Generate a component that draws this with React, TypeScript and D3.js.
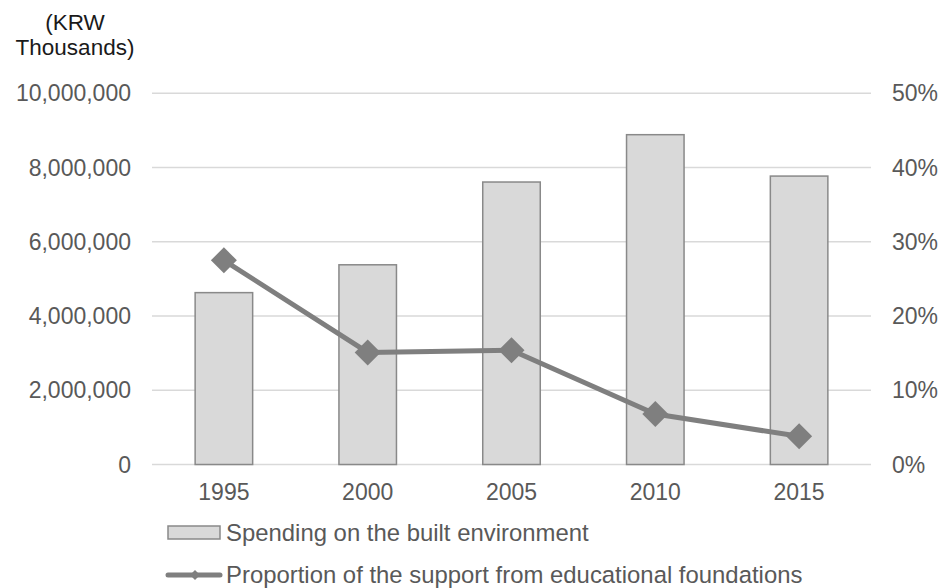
import React from "react";
import * as d3 from "d3";

const years = ["1995", "2000", "2005", "2010", "2015"];
const spending = [4630000, 5380000, 7610000, 8885000, 7770000];
const proportion = [0.275, 0.151, 0.154, 0.068, 0.038];
const leftTicks = [0, 2000000, 4000000, 6000000, 8000000, 10000000];
const rightTicks = [0, 0.1, 0.2, 0.3, 0.4, 0.5];
const titleLines = ["(KRW", "Thousands)"];
const legendBar = "Spending on the built environment";
const legendLine = "Proportion of the support from educational foundations";

const W = 944;
const H = 588;
const FONT = "'Liberation Sans', Arial, sans-serif";
const TXT = "#595959";
const GRID = "#d9d9d9";
const LINE = "#7f7f7f";

export default function App() {
  const x = d3.scaleBand<string>().domain(years).range([152, 871]).paddingInner(0.6).paddingOuter(0.3);
  const yL = d3.scaleLinear().domain([0, 10000000]).range([464.5, 93.3]);
  const yR = d3.scaleLinear().domain([0, 0.5]).range([464.5, 93.3]);
  const fmtL = d3.format(",");
  const fmtR = d3.format(".0%");
  const cx = (y: string) => (x(y) as number) + x.bandwidth() / 2;
  const linePath = d3
    .line<number>()
    .x((_, i) => cx(years[i]))
    .y((d) => yR(d))(proportion) as string;
  const diamond = (px: number, py: number, r: number) =>
    `M${px},${py - r}L${px + r},${py}L${px},${py + r}L${px - r},${py}Z`;

  return (
    <svg width={W} height={H} style={{ position: "absolute", left: 0, top: 0 }} fontFamily={FONT}>
      <rect x={0} y={0} width={W} height={H} fill="#fff" />
      {titleLines.map((t, i) => (
        <text key={t} x={75} y={30 + i * 24.5} textAnchor="middle" fontSize={22.5} fill="#1a1a1a">
          {t}
        </text>
      ))}
      {leftTicks.map((t) => (
        <line key={"g" + t} x1={152} x2={871} y1={yL(t)} y2={yL(t)} stroke={GRID} strokeWidth={1.5} />
      ))}
      {leftTicks.map((t) => (
        <text key={"l" + t} x={131} y={yL(t)} dy="0.35em" textAnchor="end" fontSize={23} fill={TXT}>
          {fmtL(t)}
        </text>
      ))}
      {rightTicks.map((t) => (
        <text key={"r" + t} x={892} y={yR(t)} dy="0.35em" textAnchor="start" fontSize={23} fill={TXT}>
          {fmtR(t)}
        </text>
      ))}
      {years.map((yr) => (
        <text key={"x" + yr} x={cx(yr)} y={491.5} dy="0.35em" textAnchor="middle" fontSize={23} fill={TXT}>
          {yr}
        </text>
      ))}
      {years.map((yr, i) => (
        <rect
          key={"b" + yr}
          x={x(yr)}
          y={yL(spending[i])}
          width={x.bandwidth()}
          height={yL(0) - yL(spending[i])}
          fill="#d9d9d9"
          stroke="#898989"
          strokeWidth={1.5}
        />
      ))}
      <path d={linePath} fill="none" stroke={LINE} strokeWidth={5} strokeLinejoin="round" />
      {years.map((yr, i) => (
        <path key={"m" + yr} d={diamond(cx(yr), yR(proportion[i]), 13)} fill={LINE} />
      ))}
      <rect x={168} y={526} width={52} height={13} fill="#d9d9d9" stroke="#898989" strokeWidth={1.5} />
      <text x={226} y={532.5} dy="0.35em" fontSize={23.9} fill={TXT}>
        {legendBar}
      </text>
      <line x1={168} x2={220} y1={575} y2={575} stroke={LINE} strokeWidth={5} strokeLinecap="round" />
      <path d={diamond(195, 575, 5)} fill={LINE} />
      <text x={226} y={575} dy="0.35em" fontSize={23.9} fill={TXT}>
        {legendLine}
      </text>
    </svg>
  );
}
